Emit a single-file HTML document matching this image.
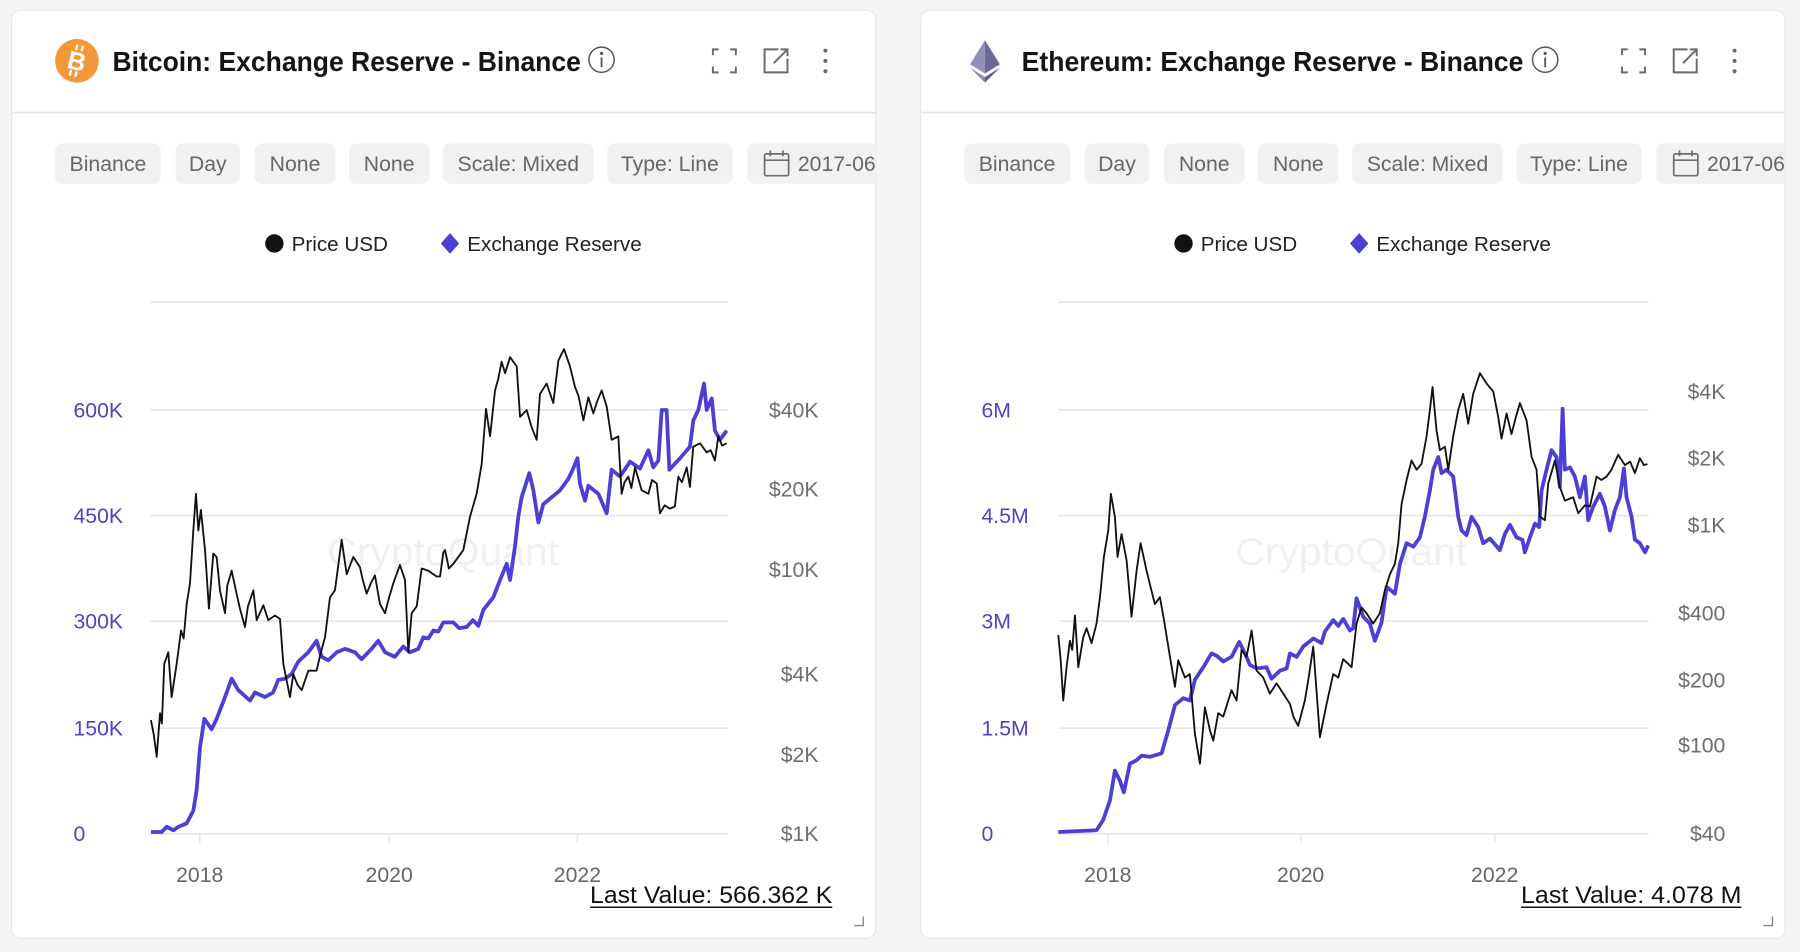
<!DOCTYPE html>
<html>
<head>
<meta charset="utf-8">
<style>
html,body{margin:0;padding:0;width:1800px;height:952px;overflow:hidden;background:#f5f5f6;}
svg{display:block;}
text{font-family:"Liberation Sans",Arial,sans-serif;}
</style>
</head>
<body>
<svg width="1800" height="952" viewBox="0 0 1568 829" preserveAspectRatio="none" xmlns="http://www.w3.org/2000/svg">
<defs>
<clipPath id="c1"><rect x="10" y="9" width="753" height="808" rx="8"/></clipPath>
<clipPath id="c2"><rect x="802" y="9" width="753" height="808" rx="8"/></clipPath>
</defs>
<rect x="0" y="0" width="1568" height="829" fill="#f5f5f6"/>

<!-- ============ BTC CARD ============ -->
<rect x="10" y="9" width="753" height="808" rx="8" fill="#fff" stroke="#e7e7e9" stroke-width="1"/>
<line x1="10" y1="98" x2="763" y2="98" stroke="#e6e6e8" stroke-width="1.6"/>
<circle cx="67" cy="53" r="19" fill="#f2973a"/>
<g transform="rotate(14 67 53)">
<text x="67" y="61" font-size="22" font-weight="bold" fill="#fff" text-anchor="middle">B</text>
<line x1="64" y1="39" x2="64" y2="44" stroke="#fff" stroke-width="2"/>
<line x1="69" y1="39" x2="69" y2="44" stroke="#fff" stroke-width="2"/>
<line x1="64" y1="62" x2="64" y2="67" stroke="#fff" stroke-width="2"/>
<line x1="69" y1="62" x2="69" y2="67" stroke="#fff" stroke-width="2"/>
</g>
<text x="98" y="62" font-size="24.5" font-weight="bold" fill="#141414" textLength="408" lengthAdjust="spacingAndGlyphs">Bitcoin: Exchange Reserve - Binance</text>
<circle cx="524" cy="52" r="11" fill="none" stroke="#555" stroke-width="1.3"/>
<circle cx="524" cy="46.5" r="1.4" fill="#555"/>
<line x1="524" y1="50" x2="524" y2="58.5" stroke="#555" stroke-width="1.6"/>
<g stroke="#6a6a6a" stroke-width="1.7" fill="none">
<path d="M621,48 V43 H626 M636,43 H641 V48 M641,58 V63 H636 M626,63 H621 V58"/>
<path d="M678,43 H666 V63 H686 V51"/>
<path d="M674,55 L686,43 M680,43 H686 V49"/>
</g>
<circle cx="719" cy="44" r="1.7" fill="#666"/>
<circle cx="719" cy="53" r="1.7" fill="#666"/>
<circle cx="719" cy="62" r="1.7" fill="#666"/>

<g clip-path="url(#c1)">
<g fill="#f1f1f2">
<rect x="48" y="125" width="92" height="35" rx="6"/>
<rect x="153" y="125" width="56" height="35" rx="6"/>
<rect x="222" y="125" width="70" height="35" rx="6"/>
<rect x="304" y="125" width="70" height="35" rx="6"/>
<rect x="386" y="125" width="131" height="35" rx="6"/>
<rect x="529" y="125" width="109" height="35" rx="6"/>
<rect x="651" y="125" width="140" height="35" rx="6"/>
</g>
<g font-size="18.5" fill="#676767" text-anchor="middle">
<text x="94" y="149">Binance</text>
<text x="181" y="149">Day</text>
<text x="257" y="149">None</text>
<text x="339" y="149">None</text>
<text x="451.5" y="149">Scale: Mixed</text>
<text x="583.5" y="149">Type: Line</text>
</g>
<g stroke="#6f6f6f" stroke-width="1.5" fill="none">
<rect x="666" y="134" width="21" height="19" rx="1.5"/>
<line x1="666" y1="139.5" x2="687" y2="139.5"/>
<line x1="671" y1="131" x2="671" y2="136"/>
<line x1="682" y1="131" x2="682" y2="136"/>
</g>
<text x="695" y="149" font-size="18.5" fill="#676767">2017-06</text>
</g>

<!-- legend -->
<circle cx="239" cy="212" r="8" fill="#111"/>
<text x="254" y="218.5" font-size="18" fill="#222">Price USD</text>
<polygon points="392,203 400,212 392,221 384,212" fill="#4c3fd6"/>
<text x="407" y="218.5" font-size="18" fill="#222">Exchange Reserve</text>

<!-- watermark -->
<text x="386" y="492" font-size="34" fill="#f0f0f2" text-anchor="middle" textLength="202" lengthAdjust="spacingAndGlyphs">CryptoQuant</text>

<!-- grid -->
<g stroke="#e7e7e9" stroke-width="1.5">
<line x1="131" y1="263" x2="634" y2="263"/>
<line x1="131" y1="357" x2="634" y2="357"/>
<line x1="131" y1="449" x2="634" y2="449"/>
<line x1="131" y1="541" x2="634" y2="541"/>
<line x1="131" y1="634" x2="634" y2="634"/>
<line x1="131" y1="726" x2="634" y2="726"/>
<line x1="174" y1="726" x2="174" y2="734"/>
<line x1="339" y1="726" x2="339" y2="734"/>
<line x1="503" y1="726" x2="503" y2="734"/>
</g>
<g font-size="18.5" fill="#4d43c6">
<text x="64" y="363.5">600K</text>
<text x="64" y="455.5">450K</text>
<text x="64" y="547.5">300K</text>
<text x="64" y="640.5">150K</text>
<text x="64" y="732.5">0</text>
</g>
<g font-size="18.5" fill="#6e6e6e" text-anchor="end">
<text x="713" y="363.5">$40K</text>
<text x="713" y="432.5">$20K</text>
<text x="713" y="502.5">$10K</text>
<text x="713" y="593.5">$4K</text>
<text x="713" y="663.5">$2K</text>
<text x="713" y="732.5">$1K</text>
</g>
<g font-size="18.5" fill="#666" text-anchor="middle">
<text x="174" y="768">2018</text>
<text x="339" y="768">2020</text>
<text x="503" y="768">2022</text>
</g>

<polyline fill="none" stroke="#4c3fd6" stroke-width="3.3" stroke-linejoin="round" points="131.5,724.5 140.8,724.5 145.2,720 151,723 155.3,720 162.6,717 168.4,706 171.3,688 174.2,651 178,626 184.4,635 188.7,626 196,607 201.8,591 207.6,601 217.8,610 222.1,603 230.8,607 237.9,603 242.4,592 248.2,591 254,587 259.9,576 268.6,568 275.8,558 280.2,572 286,575 293.3,568 300.5,565 309.2,568 315,574 323.7,565 329.5,558 335.4,568 344,572 351.3,563 357.1,568 364.4,565 368.7,555 373.1,556 377.5,549 381.8,550 386.2,542 394.9,542 400,547 406.5,546 412,540 416.7,545 421.1,531 429.8,520 435.6,505 441.4,491 444.3,505 448.6,476 451.5,450 454.4,433 461.1,412 464.6,427 469,455 473.3,439 480.6,433 487.8,427 495.1,417 498.9,409 503,399 505.2,421 509.6,436 512.5,423 521.2,430 528.5,447 532.8,409 540.1,415 548.8,402 557.5,408 564.8,392 569.1,407 573.5,401 576.4,357 580.7,357 583.1,409 592.4,399 601,389 604,366 608.3,357 613.3,334 615.6,357 620,347 622.8,375 627.2,383 633,375"/>
<polyline fill="none" stroke="#111" stroke-width="1.6" stroke-linejoin="round" points="131.5,627 134,640 136.5,659 139.4,621 141,630 143.1,578 146.6,568 149.5,607 153.9,578 157.7,549 160,556 162.6,526 165.5,508 168.4,462 170.7,430 172.8,462 175,444 178.6,479 182,530 185.8,482 188.7,485 191.6,514 196,534 198,510 201.8,497 206.1,517 209,530 213.4,546 216,528 220.7,514 223.6,540 229.4,527 233.7,540 239.5,536 243.9,539 246.8,578 252.6,607 255.5,587 259,596 262.8,601 268.6,584 275.8,584 279,570 283.1,555 287.5,520 291.8,514 297.6,470 302,500 307.8,485 313.6,494 316,505 319.4,517 323,508 326.6,501 331,526 335.4,534 339,520 342.6,508 348.4,492 352.8,505 355.7,568 358.6,534 363,528 367.3,495 373.1,497 380.4,502 383.3,502 386.2,481 387.7,479 391,495 394.9,491 403.6,479 409.4,450 415.2,430 419.6,404 423.4,356 426.9,380 431.2,340 434,330 437,315 440,325 444.3,311 450.1,319 453,363 458.8,357 463.1,372 467.5,383 470.4,343 476.2,334 482,351 486.4,314 491.3,304 496.5,319 500.9,337 504,345 508.2,366 512.5,346 516.9,360 520,350 524.1,340 528.5,354 532.8,383 538.6,380 541.5,430 544,420 547.4,415 550,425 553.2,407 559,427 564.8,430 568,418 572.1,421 574.9,447 579,440 583.6,443 587.9,441 590.9,415 594,420 598.2,407 601,424 603.9,389 609.8,386 615.6,394 619,392 622.8,401 625.7,380 629,388 633,386"/>

<text x="514" y="786.5" font-size="21" fill="#111" textLength="211" lengthAdjust="spacingAndGlyphs">Last Value: 566.362 K</text>
<line x1="514" y1="790" x2="725" y2="790" stroke="#111" stroke-width="1.3"/>
<path d="M752,798 V806 H744" fill="none" stroke="#888" stroke-width="1.2"/>

<!-- ============ ETH CARD ============ -->
<rect x="802" y="9" width="753" height="808" rx="8" fill="#fff" stroke="#e7e7e9" stroke-width="1"/>
<line x1="802" y1="98" x2="1555" y2="98" stroke="#e6e6e8" stroke-width="1.6"/>
<polygon points="858,35 858,64 845,56" fill="#8f8fb8"/>
<polygon points="858,35 871,56 858,64" fill="#6a6a98"/>
<polygon points="845,59 858,67 858,72" fill="#8a8ab4"/>
<polygon points="871,59 858,67 858,72" fill="#5e5e8c"/>
<text x="890" y="62" font-size="24.5" font-weight="bold" fill="#141414" textLength="437" lengthAdjust="spacingAndGlyphs">Ethereum: Exchange Reserve - Binance</text>
<circle cx="1346" cy="52" r="11" fill="none" stroke="#555" stroke-width="1.3"/>
<circle cx="1346" cy="46.5" r="1.4" fill="#555"/>
<line x1="1346" y1="50" x2="1346" y2="58.5" stroke="#555" stroke-width="1.6"/>
<g stroke="#6a6a6a" stroke-width="1.7" fill="none">
<path d="M1413,48 V43 H1418 M1428,43 H1433 V48 M1433,58 V63 H1428 M1418,63 H1413 V58"/>
<path d="M1470,43 H1458 V63 H1478 V51"/>
<path d="M1466,55 L1478,43 M1472,43 H1478 V49"/>
</g>
<circle cx="1511" cy="44" r="1.7" fill="#666"/>
<circle cx="1511" cy="53" r="1.7" fill="#666"/>
<circle cx="1511" cy="62" r="1.7" fill="#666"/>

<g clip-path="url(#c2)">
<g fill="#f1f1f2">
<rect x="840" y="125" width="92" height="35" rx="6"/>
<rect x="945" y="125" width="56" height="35" rx="6"/>
<rect x="1014" y="125" width="70" height="35" rx="6"/>
<rect x="1096" y="125" width="70" height="35" rx="6"/>
<rect x="1178" y="125" width="131" height="35" rx="6"/>
<rect x="1321" y="125" width="109" height="35" rx="6"/>
<rect x="1443" y="125" width="140" height="35" rx="6"/>
</g>
<g font-size="18.5" fill="#676767" text-anchor="middle">
<text x="886" y="149">Binance</text>
<text x="973" y="149">Day</text>
<text x="1049" y="149">None</text>
<text x="1131" y="149">None</text>
<text x="1243.5" y="149">Scale: Mixed</text>
<text x="1375.5" y="149">Type: Line</text>
</g>
<g stroke="#6f6f6f" stroke-width="1.5" fill="none">
<rect x="1458" y="134" width="21" height="19" rx="1.5"/>
<line x1="1458" y1="139.5" x2="1479" y2="139.5"/>
<line x1="1463" y1="131" x2="1463" y2="136"/>
<line x1="1474" y1="131" x2="1474" y2="136"/>
</g>
<text x="1487" y="149" font-size="18.5" fill="#676767">2017-06</text>
</g>

<circle cx="1031" cy="212" r="8" fill="#111"/>
<text x="1046" y="218.5" font-size="18" fill="#222">Price USD</text>
<polygon points="1184,203 1192,212 1184,221 1176,212" fill="#4c3fd6"/>
<text x="1199" y="218.5" font-size="18" fill="#222">Exchange Reserve</text>

<text x="1177" y="492" font-size="34" fill="#f0f0f2" text-anchor="middle" textLength="202" lengthAdjust="spacingAndGlyphs">CryptoQuant</text>

<g stroke="#e7e7e9" stroke-width="1.5">
<line x1="922" y1="263" x2="1436" y2="263"/>
<line x1="922" y1="357" x2="1436" y2="357"/>
<line x1="922" y1="449" x2="1436" y2="449"/>
<line x1="922" y1="541" x2="1436" y2="541"/>
<line x1="922" y1="634" x2="1436" y2="634"/>
<line x1="922" y1="726" x2="1436" y2="726"/>
<line x1="965" y1="726" x2="965" y2="734"/>
<line x1="1133" y1="726" x2="1133" y2="734"/>
<line x1="1302" y1="726" x2="1302" y2="734"/>
</g>
<g font-size="18.5" fill="#4d43c6">
<text x="855" y="363.5">6M</text>
<text x="855" y="455.5">4.5M</text>
<text x="855" y="547.5">3M</text>
<text x="855" y="640.5">1.5M</text>
<text x="855" y="732.5">0</text>
</g>
<g font-size="18.5" fill="#6e6e6e" text-anchor="end">
<text x="1503" y="347.5">$4K</text>
<text x="1503" y="405.5">$2K</text>
<text x="1503" y="463.5">$1K</text>
<text x="1503" y="540.5">$400</text>
<text x="1503" y="598.5">$200</text>
<text x="1503" y="655.5">$100</text>
<text x="1503" y="732.5">$40</text>
</g>
<g font-size="18.5" fill="#666" text-anchor="middle">
<text x="965" y="768">2018</text>
<text x="1133" y="768">2020</text>
<text x="1302" y="768">2022</text>
</g>

<polyline fill="none" stroke="#4c3fd6" stroke-width="3.3" stroke-linejoin="round" points="921.9,724.5 955.2,723 961,714 966.9,697 971.2,671 975.6,680 979,690 984.3,665 990.1,662 994.5,658 1001.7,659 1011.9,656 1017.7,636 1023.5,614 1030.7,608 1036.5,610 1040.9,592 1048.2,581 1055.4,569 1059.8,571 1065.6,576 1072.8,572 1079.5,559 1084.5,569 1088.8,579 1094.6,582 1103.3,581 1107.7,591 1115,584 1120.8,582 1123.7,569 1129.5,572 1135.3,563 1144,556 1151.2,560 1154.1,550 1161.4,540 1165.8,545 1170.1,539 1175.9,549 1178.8,547 1181.7,521 1187.5,537 1193.3,543 1197.7,558 1203.5,542 1207.9,511 1215.1,517 1219.5,491 1225.3,473 1231.1,476 1236.9,468 1241.2,450 1245.6,427 1248.5,409 1252.9,398 1255.8,412 1260.1,409 1265.9,415 1270.3,450 1273.2,462 1277.5,466 1281.9,450 1287.7,459 1292,473 1297.9,469 1306.6,479 1310.9,465 1315.3,457 1321.1,468 1326.3,470 1328.3,481 1332.7,468 1337.1,456 1340.8,459 1342.9,427 1347.2,409 1351.6,392 1355.9,398 1358.8,424 1361.2,356 1363.2,409 1367.6,407 1371.9,415 1376.3,433 1380.6,415 1383.5,453 1387.9,441 1393.7,430 1398,441 1402.4,462 1406.8,444 1411.1,433 1414.6,408 1416.9,433 1421.3,450 1424.2,470 1428.5,473 1433,481 1435.8,475"/>
<polyline fill="none" stroke="#111" stroke-width="1.6" stroke-linejoin="round" points="921.9,553 924,575 926.2,610 929.1,581 932,558 934,566 936.4,536 939.3,581 943.6,555 946.5,547 950.9,560 955.2,543 958.2,520 961.6,485 965.4,462 967.7,430 971.2,450 973.5,485 977,465 981.4,488 985.7,537 990.1,497 993.6,473 998.8,497 1002,510 1006,526 1010.4,520 1014,540 1017.7,563 1023.5,598 1026.4,575 1032.2,590 1036.5,587 1040.9,639 1045.3,665 1049.6,616 1054,636 1056.9,645 1061.2,621 1065.6,624 1072.8,601 1077.2,610 1081.5,566 1085.9,572 1090.3,549 1094.6,584 1100.4,590 1106.2,604 1112,595 1117.9,604 1123.7,613 1127,625 1130.9,632 1136.7,610 1140,590 1144,563 1149.8,642 1155.6,613 1161.4,587 1165.8,590 1170.1,574 1177.4,581 1181.7,543 1186.1,529 1190.4,534 1196.2,543 1202,534 1206.4,514 1210.8,500 1215.1,491 1218,473 1220.9,439 1225.3,418 1229.6,401 1234,409 1238.3,404 1242.7,380 1245.6,357 1247.9,337 1251.4,375 1254.3,392 1258.7,389 1261.6,409 1265.9,380 1270.3,357 1274.6,343 1279,369 1283.3,343 1289.2,325 1295,334 1300.8,341 1305.1,363 1308,382 1312.4,360 1316.7,378 1320,365 1324,351 1329.8,366 1334.2,398 1338.5,409 1341.4,450 1345.8,453 1348.7,421 1354.5,401 1358.8,424 1363.2,436 1370.4,433 1374.8,447 1380.6,440 1385,441 1390.8,415 1395,418 1399.5,415 1403.8,409 1409.6,396 1415.5,405 1420,402 1424.2,412 1428.5,399 1432,405 1435,404"/>

<text x="1325" y="786.5" font-size="21" fill="#111" textLength="192" lengthAdjust="spacingAndGlyphs">Last Value: 4.078 M</text>
<line x1="1325" y1="790" x2="1517" y2="790" stroke="#111" stroke-width="1.3"/>
<path d="M1544,798 V806 H1536" fill="none" stroke="#888" stroke-width="1.2"/>
</svg>
</body>
</html>
